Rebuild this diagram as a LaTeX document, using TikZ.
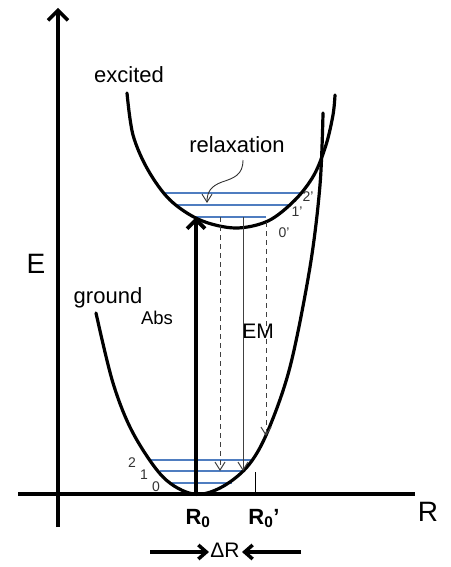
\documentclass[tikz,border=0pt]{standalone}
\usepackage{fontspec}
\setmainfont{Liberation Sans}
\usetikzlibrary{arrows.meta}
\definecolor{levelblue}{RGB}{79,125,192}
\tikzset{
  axisline/.style={line width=3.5pt, -{Straight Barb[length=10pt,width=20pt]}},
  curveline/.style={line width=3.2pt, line cap=round},
  levelline/.style={draw=levelblue, line width=1.1pt},
  absarrow/.style={line width=3.8pt, -{Straight Barb[length=9pt,width=18pt]}},
  emsolid/.style={line width=1pt, draw=black!75, -{Straight Barb[length=8pt,width=10pt]}},
  emdashed/.style={line width=1pt, draw=black!75, dash pattern=on 5pt off 4pt, -{Straight Barb[length=8pt,width=10pt]}},
  drarrow/.style={line width=3.5pt, -{Straight Barb[length=8pt,width=14pt]}},
  relaxarrow/.style={line width=0.9pt, draw=black!80, -{Straight Barb[length=8pt,width=10pt]}},
  bigtxt/.style={font=\fontsize{22}{26}\selectfont, inner sep=0pt, anchor=base},
  axtxt/.style={font=\fontsize{28}{32}\selectfont, inner sep=0pt, anchor=base},
  smalltxt/.style={font=\fontsize{14}{16}\selectfont, inner sep=0pt, anchor=base, text=black!80},
}
\begin{document}
\begin{tikzpicture}[x=1pt,y=-1pt]
\useasboundingbox (0,0) rectangle (450,567);
% axes
\coordinate (ybot) at (58,527);
\coordinate (ytop) at (58,8);
\coordinate (xleft) at (18,494);
\coordinate (xright) at (415,494);
\draw[line width=3.8pt] (xleft) -- (xright);
\draw[axisline] (ybot) -- (ytop);
\node[axtxt] (Elbl) at (36,273) {E};
\node[axtxt] (Rlbl) at (428,521) {R};
% ground levels
\coordinate (g2a) at (148,460); \coordinate (g2b) at (253,460);
\coordinate (g1a) at (160,471); \coordinate (g1b) at (245,471);
\coordinate (g0a) at (172,483); \coordinate (g0b) at (232,483);
\draw[levelline] (g2a) -- (g2b);
\draw[levelline] (g1a) -- (g1b);
\draw[levelline] (g0a) -- (g0b);
% excited levels
\coordinate (e2a) at (163,193); \coordinate (e2b) at (302,193);
\coordinate (e1a) at (175,205); \coordinate (e1b) at (290,205);
\coordinate (e0a) at (195,217); \coordinate (e0b) at (266,217);
\draw[levelline] (e2a) -- (e2b);
\draw[levelline] (e1a) -- (e1b);
\draw[levelline] (e0a) -- (e0b);
% ground curve
\draw[curveline] plot[smooth, tension=0.55] coordinates {(96,313) (113,383) (133,433) (163,477) (193,494) (220,488) (247,467) (267,433) (290,367) (310,267) (320,185) (323,113)};
% excited curve
\draw[curveline] plot[smooth, tension=0.55] coordinates {(127,93) (133,135) (148,170) (170,200) (200,220) (235,228) (268,221) (295,200) (314,175) (326,145) (333,115) (335,95)};
% absorption arrow
\coordinate (absS) at (196,494);
\coordinate (absE) at (196,217);
\draw[absarrow] (absS) -- (absE);
% emission arrows
\coordinate (em1S) at (220,217); \coordinate (em1E) at (220,471);
\coordinate (em2S) at (243,217); \coordinate (em2E) at (243,471);
\coordinate (em3S) at (266,222); \coordinate (em3E) at (266,436);
\draw[emdashed] (em1S) -- (em1E);
\draw[emsolid] (em2S) -- (em2E);
\draw[emdashed] (em3S) -- (em3E);
% R0' tick
\coordinate (tickA) at (255,472);
\coordinate (tickB) at (255,494);
\draw[line width=1pt] (tickA) -- (tickB);
% relaxation arrow
\coordinate (rs) at (243,160);
\coordinate (rm) at (222,182);
\coordinate (re) at (207,203);
\draw[relaxarrow] (rs) .. controls (243,175) and (234,178) .. (rm) .. controls (211,186) and (207,192) .. (re);
% labels
\node[bigtxt] (excited) at (129,83) {excited};
\node[bigtxt] (relax) at (237,152) {relaxation};
\node[bigtxt] (ground) at (108,303) {ground};
\node[font=\fontsize{18.5}{22}\selectfont, inner sep=0pt, anchor=base] (abs) at (157,324) {Abs};
\node[font=\fontsize{21}{24}\selectfont, inner sep=0pt, anchor=base] (em) at (258,338) {EM};
\node[smalltxt] (l2p) at (308,201) {2'};
\node[smalltxt] (l1p) at (297,216) {1'};
\node[smalltxt] (l0p) at (284,237) {0'};
\node[smalltxt] (l2) at (132,467) {2};
\node[smalltxt] (l1) at (144,479) {1};
\node[smalltxt] (l0) at (156,491) {0};
\node[font=\fontsize{22}{26}\selectfont\bfseries, inner sep=0pt, anchor=base] (R0) at (198,524) {R$_{\mathbf{0}}$};
\node[font=\fontsize{22}{26}\selectfont\bfseries, inner sep=0pt, anchor=base] (R0p) at (264,524) {R$_{\mathbf{0}}$'};
% Delta R
\node[font=\fontsize{21}{24}\selectfont, inner sep=0pt, anchor=base] (dR) at (225,557) {ΔR};
\coordinate (d1s) at (150,552); \coordinate (d1e) at (209,552);
\coordinate (d2s) at (301,552); \coordinate (d2e) at (242,552);
\draw[drarrow] (d1s) -- (d1e);
\draw[drarrow] (d2s) -- (d2e);
\end{tikzpicture}
\end{document}
